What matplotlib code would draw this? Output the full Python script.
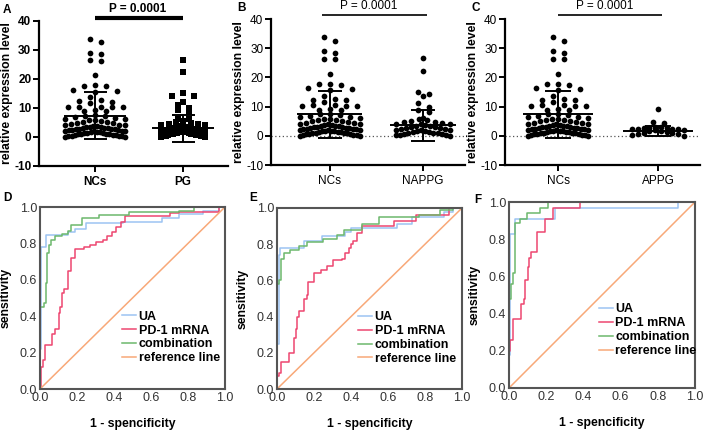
import numpy as np
import matplotlib
matplotlib.use("Agg")
import matplotlib.pyplot as plt

plt.rcParams['font.family'] = ['Liberation Sans', 'DejaVu Sans']

# ---- scatter data (relative expression level) ----
nc = [33.7, 32.6, 28.9, 28.5, 26.4, 26.2, 21.3, 17.9, 17.7, 17.5, 16.2, 16.0, 15.6,
      13.8, 12.6, 12.3, 12.1, 11.7, 10.5, 10.4, 10.3, 10.3, 10.2, 9.2, 9.0, 8.9,
      7.6, 7.4, 7.1, 6.8, 6.5, 6.3, 6.1,
      5.9, 5.7, 5.5, 5.3, 5.1, 4.9, 4.7, 4.5, 4.3, 4.1, 4.0,
      3.9, 3.8, 3.6, 3.5, 3.4, 3.2, 3.1, 3.0, 2.9, 2.8, 2.7, 2.6, 2.5, 2.4, 2.3, 2.2,
      2.1, 2.0,
      1.9, 1.8, 1.7, 1.6, 1.5, 1.4, 1.3, 1.2, 1.1, 1.0, 0.9, 0.8, 0.7, 0.6, 0.5, 0.4,
      0.3, 0.2, 0.1, 0.05]
pg = [26.4, 22.4, 15.2, 14.2, 14.0, 12.1, 10.9, 10.1, 9.2, 8.6, 6.3, 6.2,
      5.6, 5.2, 4.9, 4.6, 4.4, 4.2, 4.0,
      3.9, 3.7, 3.5, 3.3, 3.2, 3.0, 2.9, 2.8, 2.6, 2.5, 2.4, 2.3, 2.2, 2.1, 2.0,
      1.9, 1.8, 1.7, 1.6, 1.5, 1.4, 1.3, 1.2, 1.1, 1.0, 0.9, 0.8, 0.7, 0.6, 0.5, 0.4,
      0.3, 0.2, 0.15, 0.1]
nappg = [26.5, 22.2, 15.0, 14.2, 13.8, 11.3, 10.0, 9.0, 8.0, 6.0,
         5.6, 5.3, 5.0, 4.8, 4.6, 4.4, 4.2, 4.0,
         3.9, 3.7, 3.5, 3.3, 3.1, 2.9, 2.7, 2.6, 2.4, 2.3, 2.1, 2.0,
         1.9, 1.7, 1.6, 1.4, 1.3, 1.1, 1.0, 0.8, 0.7, 0.5, 0.4, 0.3, 0.2, 0.1]
appg = [9.3, 4.6, 4.5,
        3.0, 2.9, 2.8, 2.7, 2.6, 2.5, 2.4, 2.3, 2.2, 2.1,
        1.9, 1.7, 1.5, 1.3, 1.1, 0.9, 0.7, 0.5, 0.3, 0.1]

# mean and SD
nc_mean, nc_sd = 7.4, 8.0
pg_mean, pg_sd = 3.0, 4.7
nappg_mean, nappg_sd = 3.6, 5.4
appg_mean, appg_sd = 1.6, 1.8

# ---- ROC data (1 - specificity, sensitivity) ----
D_ua_x = [0, 0, 0.008, 0.03, 0.15, 0.19, 0.25, 0.45, 0.66, 0.75, 0.88, 0.97, 1.0]
D_ua_y = [0, 0.22, 0.78, 0.845, 0.865, 0.88, 0.91, 0.92, 0.94, 0.96, 0.98, 1.0, 1.0]
D_pd_x = [0, 0.005, 0.016, 0.025, 0.065, 0.08, 0.10, 0.11, 0.118, 0.13, 0.15, 0.17, 0.19,
          0.24, 0.27, 0.30, 0.34, 0.36, 0.39, 0.41, 0.44, 0.46, 0.70, 0.75, 0.97, 1.0]
D_pd_y = [0, 0.12, 0.16, 0.24, 0.30, 0.33, 0.42, 0.45, 0.53, 0.55, 0.65, 0.72, 0.77,
          0.78, 0.79, 0.81, 0.82, 0.84, 0.86, 0.89, 0.92, 0.95, 0.965, 0.975, 1.0, 1.0]
D_co_x = [0, 0, 0.02, 0.03, 0.04, 0.05, 0.06, 0.08, 0.12, 0.15, 0.17, 0.225, 0.32, 0.48,
          0.75, 0.83, 1.0]
D_co_y = [0, 0.45, 0.47, 0.58, 0.75, 0.79, 0.82, 0.84, 0.85, 0.87, 0.90, 0.94, 0.956,
          0.97, 0.98, 1.0, 1.0]

E_ua_x = [0, 0, 0.01, 0.018, 0.144, 0.243, 0.37, 0.40, 0.65, 0.73, 0.90, 0.95, 1.0]
E_ua_y = [0, 0.25, 0.74, 0.78, 0.82, 0.845, 0.865, 0.89, 0.91, 0.95, 0.98, 1.0, 1.0]
E_pd_x = [0, 0, 0.01, 0.02, 0.065, 0.09, 0.10, 0.107, 0.12, 0.144, 0.16, 0.17, 0.20,
          0.24, 0.27, 0.30, 0.35, 0.37, 0.39, 0.40, 0.41, 0.43, 0.46, 0.63, 0.75, 0.93, 1.0]
E_pd_y = [0, 0.07, 0.09, 0.15, 0.20, 0.28, 0.33, 0.40, 0.43, 0.50, 0.52, 0.59, 0.64,
          0.66, 0.68, 0.71, 0.72, 0.75, 0.78, 0.80, 0.82, 0.86, 0.90, 0.93, 0.96, 1.0, 1.0]
E_co_x = [0, 0, 0.01, 0.02, 0.04, 0.07, 0.12, 0.16, 0.25, 0.325, 0.36, 0.46, 0.55, 0.77,
          0.88, 0.95, 1.0]
E_co_y = [0, 0.58, 0.60, 0.72, 0.75, 0.77, 0.79, 0.81, 0.83, 0.85, 0.88, 0.91, 0.95,
          0.96, 0.99, 1.0, 1.0]

F_ua_x = [0, 0, 0.007, 0.03, 0.247, 0.91, 1.0]
F_ua_y = [0, 0.18, 0.83, 0.91, 0.966, 1.0, 1.0]
F_pd_x = [0, 0, 0.005, 0.02, 0.065, 0.08, 0.085, 0.10, 0.11, 0.12, 0.149, 0.194, 0.238,
          0.38, 1.0]
F_pd_y = [0, 0.20, 0.26, 0.37, 0.45, 0.48, 0.58, 0.65, 0.70, 0.73, 0.84, 0.91, 0.966,
          1.0, 1.0]
F_co_x = [0, 0, 0.01, 0.02, 0.03, 0.059, 0.095, 0.167, 0.21, 1.0]
F_co_y = [0, 0.48, 0.56, 0.62, 0.885, 0.91, 0.94, 0.966, 1.0, 1.0]

roc_labels = ['UA', 'PD-1 mRNA', 'combination', 'reference line']
roc_colors = ['#9cc3f2', '#ee4670', '#6cb86c', '#f8a878']


def prism_x(ax, vals, xc, maxw, binh=2.0, dmax=11.0):
    # column scatter like Prism: points binned in rows, spread sideways,
    # squeezed together when a row gets too wide
    vals = np.asarray(vals, float)
    ppu = abs(ax.transData.transform((xc, 1))[0] - ax.transData.transform((xc + 1, 1))[0])
    xs = np.full(len(vals), float(xc))
    rows = np.floor(vals / binh)
    for r in np.unique(rows):
        idx = np.where(rows == r)[0]
        idx = idx[np.argsort(-vals[idx])]
        n = len(idx)
        if n == 1:
            continue
        step = min(dmax, maxw / (n - 1))
        slots = (np.arange(n) - (n - 1) / 2) * step
        slots = slots[np.argsort(np.abs(slots), kind='stable')]
        xs[idx] = xc + slots / ppu
    return xs


W, H = 709, 433
fig = plt.figure(figsize=(W / 100, H / 100), dpi=100)


def px_axes(l, t, r, b):
    return fig.add_axes([l / W, 1 - b / H, (r - l) / W, (b - t) / H])


def scatter_panel(box, xlim, groups, markers, widths, means, sds, names, letter, lpos,
                  ptxt, pline, zero_line, heavy):
    ax = px_axes(*box)
    ax.set_xlim(*xlim)
    ax.set_ylim(-10, 40)
    wt = 'bold' if heavy else 'normal'
    for s in ['top', 'right']:
        ax.spines[s].set_visible(False)
    for s in ['left', 'bottom']:
        ax.spines[s].set_linewidth(1.6)
    ax.set_yticks([-10, 0, 10, 20, 30, 40])
    ax.set_yticklabels(['-10', '0', '10', '20', '30', '40'], fontweight=wt)
    ax.set_xticks([1, 2])
    ax.set_xticklabels(names, fontweight=wt, fontsize=8.5)
    ax.tick_params(axis='y', labelsize=8.5, width=1.4, length=4, pad=1.5)
    ax.tick_params(axis='x', width=1.4, length=4, pad=3)
    ax.set_ylabel('relative expression level', fontweight='bold', fontsize=8.8, labelpad=1)
    if zero_line:
        ax.axhline(0, color='#555555', lw=0.9, ls=(0, (1, 2)), zorder=1)
    for k, (vals, mk) in enumerate(zip(groups, markers)):
        xc = k + 1
        xs = prism_x(ax, vals, xc, widths[k])
        ax.scatter(xs, vals, s=17 if mk == 'o' else 15, marker=mk, color='black',
                   linewidths=0, zorder=2)
        m, sd = means[k], sds[k]
        ax.hlines(m, xc - 0.35, xc + 0.35, color='black', lw=1.4, zorder=3)
        ax.hlines([m - sd, m + sd], xc - 0.13, xc + 0.13, color='black', lw=1.4, zorder=3)
        ax.vlines(xc, m - sd, m + sd, color='black', lw=1.4, zorder=3)
    ax.plot(pline, [41.2, 41.2], color='black', lw=3 if heavy else 1.2,
            clip_on=False, solid_capstyle='butt')
    ax.text(ptxt, 44.3, 'P = 0.0001', ha='center', va='center', fontsize=8.5,
            fontweight=wt)
    fig.text(lpos[0] / W, 1 - lpos[1] / H, letter, fontweight='bold', fontsize=8.5,
             ha='left', va='center')
    return ax


scatter_panel((39, 21, 228, 166), (0.36, 2.51), [nc, pg], ['o', 's'], [60, 44],
              [nc_mean, pg_mean], [nc_sd, pg_sd], ['NCs', 'PG'], 'A', (3, 10),
              1.48, [1.0, 2.0], False, True)
scatter_panel((271, 19, 465, 165), (0.37, 2.45), [nc, nappg], ['o', 'o'], [60, 54],
              [nc_mean, nappg_mean], [nc_sd, nappg_sd], ['NCs', 'NAPPG'], 'B', (237, 8),
              1.42, [0.92, 2.04], True, False)
scatter_panel((505, 19, 700, 165), (0.47, 2.42), [nc, appg], ['o', 'o'], [60, 52],
              [nc_mean, appg_mean], [nc_sd, appg_sd], ['NCs', 'APPG'], 'C', (472, 8),
              1.47, [1.0, 2.04], True, False)


def roc_panel(box, curves, letter, lpos, leg_anchor):
    ax = px_axes(*box)
    ax.set_xlim(0, 1)
    ax.set_ylim(0, 1)
    for s in ax.spines.values():
        s.set_color('#555555')
        s.set_linewidth(1.5)
    ticks = [0, 0.2, 0.4, 0.6, 0.8, 1.0]
    ax.set_xticks(ticks)
    ax.set_yticks(ticks)
    ax.set_xticklabels(['%.1f' % t for t in ticks])
    ax.set_yticklabels(['%.1f' % t for t in ticks])
    ax.tick_params(length=0, labelsize=9, labelcolor='#333333', pad=2)
    for (xv, yv), lab, col in zip(curves, roc_labels[:3], roc_colors[:3]):
        ax.plot(xv, yv, drawstyle='steps-post', color=col, lw=1.1, label=lab)
    ax.plot([0, 1], [0, 1], color=roc_colors[3], lw=1.1, label=roc_labels[3])
    ax.set_xlabel('1 - spencificity', fontweight='bold', fontsize=8.8, labelpad=10)
    ax.set_ylabel('sensitivity', fontweight='bold', fontsize=8.8, labelpad=6)
    ax.legend(loc='upper left', bbox_to_anchor=leg_anchor, frameon=False,
              prop={'weight': 'bold', 'size': 9}, handlelength=1.1, handletextpad=0.2,
              labelspacing=0.15, borderaxespad=0, borderpad=0)
    fig.text(lpos[0] / W, 1 - lpos[1] / H, letter, fontweight='bold', fontsize=8.5,
             ha='left', va='center')
    return ax


roc_panel((40, 207, 225, 389), [(D_ua_x, D_ua_y), (D_pd_x, D_pd_y), (D_co_x, D_co_y)],
          'D', (3, 198), (0.445, 0.43))
roc_panel((277, 208, 462, 389), [(E_ua_x, E_ua_y), (E_pd_x, E_pd_y), (E_co_x, E_co_y)],
          'E', (249, 198), (0.44, 0.43))
roc_panel((509, 202, 695, 388), [(F_ua_x, F_ua_y), (F_pd_x, F_pd_y), (F_co_x, F_co_y)],
          'F', (474, 200), (0.485, 0.455))

fig.savefig('out.png', dpi=100)
